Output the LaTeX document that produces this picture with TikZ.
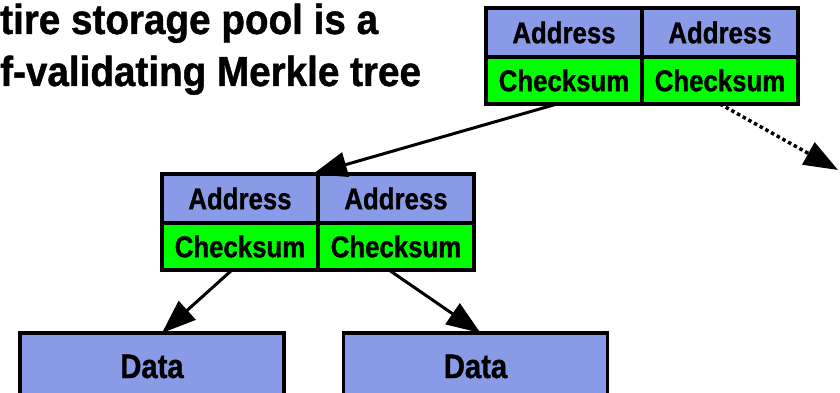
\documentclass[tikz,border=0pt]{standalone}
\usepackage{fontspec}
\setmainfont{Liberation Sans}
\newfontfamily\cellfont{Liberation Sans}[FakeStretch=0.86,FakeBold=1]
\newfontfamily\titlefont{Liberation Sans}[FakeStretch=0.92,FakeBold=1]
\usetikzlibrary{arrows.meta,positioning}
\definecolor{addrblue}{RGB}{137,155,230}
\definecolor{sumgreen}{RGB}{0,255,0}
\tikzset{
    raw cell/.style={rectangle, draw=black, line width=3.5pt, inner sep=0pt, outer sep=0pt, align=center},
    addr cell/.style={raw cell, fill=addrblue, minimum width=156pt, minimum height=49pt, font=\cellfont\bfseries\fontsize{30}{32}\selectfont},
    sum cell/.style={raw cell, fill=sumgreen, minimum width=156pt, minimum height=47pt, font=\cellfont\bfseries\fontsize{30}{32}\selectfont},
    data cell/.style={raw cell, fill=addrblue, minimum width=264pt, minimum height=67pt, font=\cellfont\bfseries\fontsize{34}{36}\selectfont},
    title line/.style={anchor=base west, inner sep=0pt, font=\titlefont\bfseries\fontsize{42}{44}\selectfont},
    ptr/.style={-{Triangle[length=34pt,width=25pt]}, line width=3pt},
    free ptr/.style={ptr, line width=3.5pt, dash pattern=on 3.5pt off 3pt}
}
\begin{document}
\begin{tikzpicture}[x=1pt,y=-1pt]
	\useasboundingbox (0,0) rectangle (840,393);
		\node[title line] (title1) at (0,34) {tire storage pool is a};
		\node[title line] (title2) at (0,86) {f-validating Merkle tree};
		\begin{scope}
			\node[addr cell] (ta1) at (564,32.5) {Address};
			\node[addr cell, right=0pt of ta1] (ta2) {Address};
			\node[sum cell, below=0pt of ta1] (tc1) {Checksum};
			\node[sum cell, below=0pt of ta2] (tc2) {Checksum};
		\end{scope}
		\begin{scope}
			\node[addr cell] (ma1) at (240,198.5) {Address};
			\node[addr cell, right=0pt of ma1] (ma2) {Address};
			\node[sum cell, below=0pt of ma1] (mc1) {Checksum};
			\node[sum cell, below=0pt of ma2] (mc2) {Checksum};
		\end{scope}
		\node[data cell] (dl) at (152,366.5) {Data};
		\node[data cell] (dr) at (475.5,366.5) {Data};
		\coordinate (next) at (838,170);
	\draw[ptr] ([xshift=-7pt]tc1.south) -- ([xshift=-5pt]ma1.north east);
	\draw[free ptr] (tc2.south) -- (next);
	\draw[ptr] ([xshift=-8pt]mc1.south) -- ([xshift=10pt]dl.north);
	\draw[ptr] ([xshift=-7pt]mc2.south) -- ([xshift=5pt]dr.north);
\end{tikzpicture}
\end{document}
